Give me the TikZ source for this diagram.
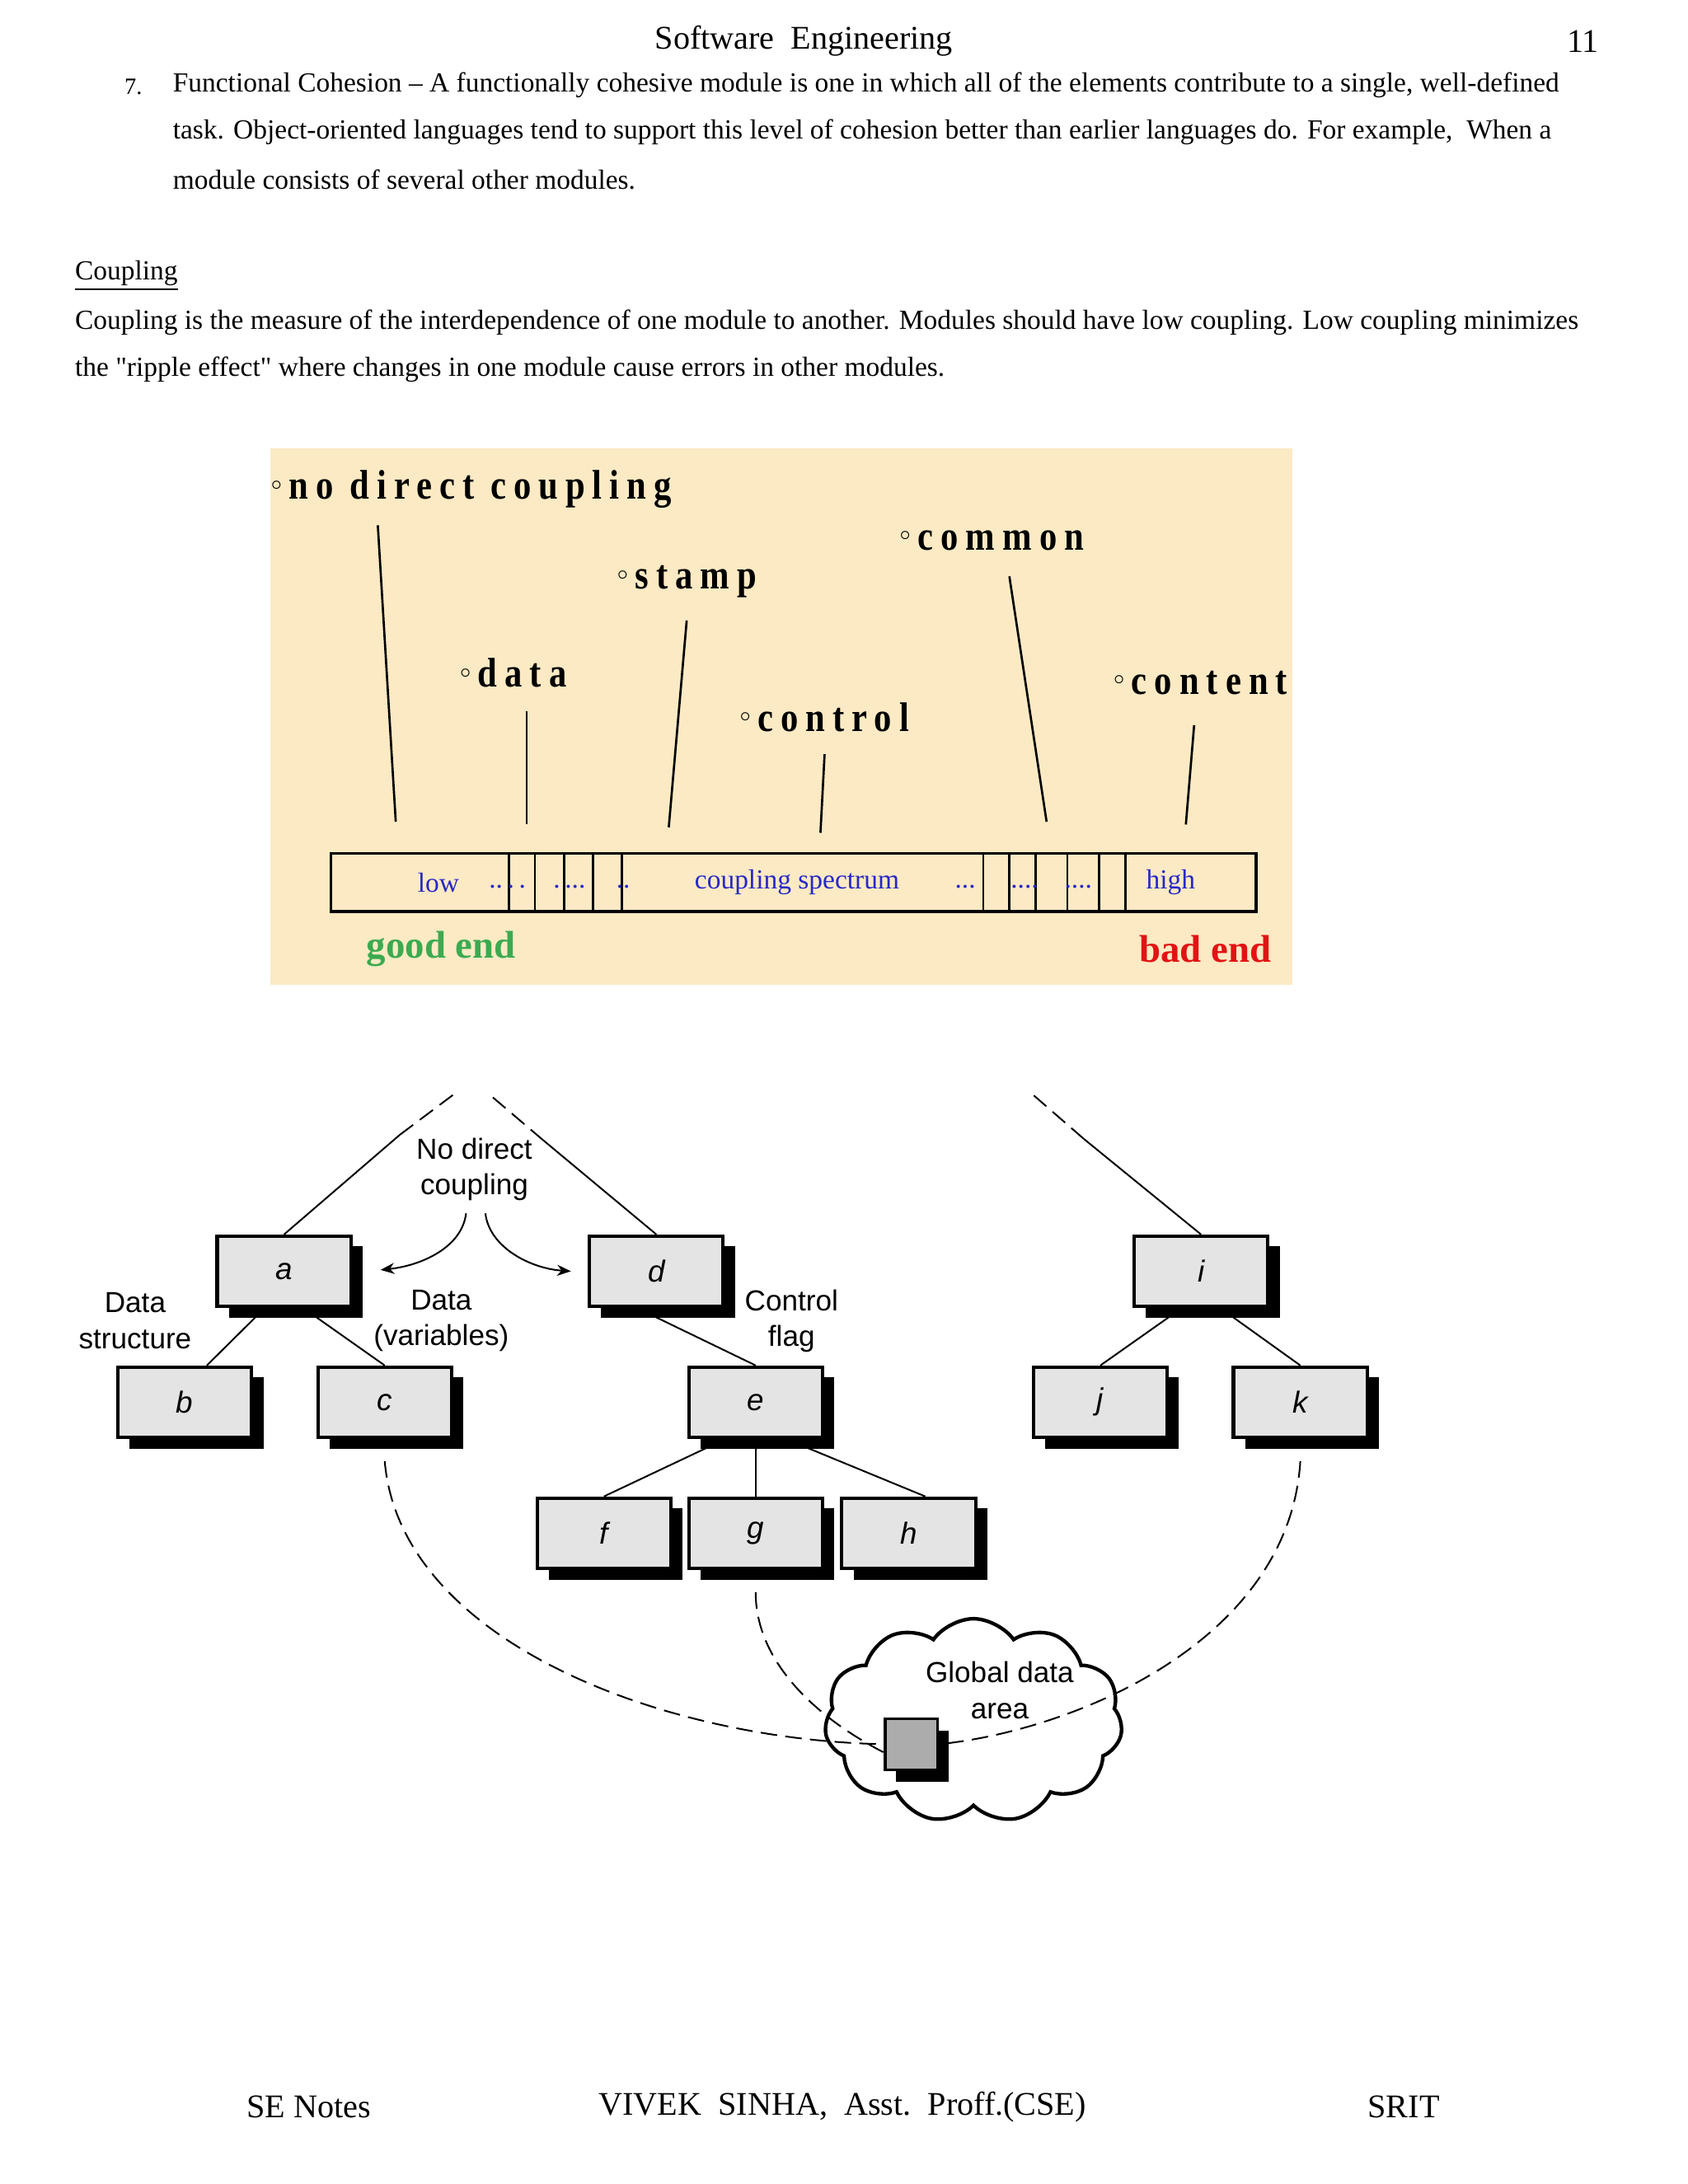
\documentclass[tikz,border=0pt]{standalone}
\usepackage{fontspec}
\setmainfont{Liberation Serif}
\newfontfamily\plainf{Liberation Serif}
\newfontfamily\sansf{Liberation Sans}
\newfontfamily\specf{Liberation Serif}[LetterSpace=18,FakeStretch=0.85]
\usetikzlibrary{shapes.symbols,arrows.meta}
\definecolor{paper}{RGB}{252,234,196}
\definecolor{boxgray}{RGB}{228,228,228}
\definecolor{specblue}{RGB}{40,40,200}
\definecolor{goodgreen}{RGB}{60,170,80}
\definecolor{badred}{RGB}{225,20,20}
\newcommand{\dg}{\raisebox{0.5ex}{\fontsize{7}{7}\selectfont$\circ$}\,}
\newcommand{\sq}{{\plainf"}}
\begin{document}
\begin{tikzpicture}[x=0.5pt,y=-0.5pt,
  body/.style={font=\fontsize{10}{12}\selectfont,anchor=west,inner sep=0},
  spec/.style={font=\fontsize{15}{16}\selectfont\specf\bfseries,anchor=west,inner sep=0},
  tick/.style={line width=0.8pt},
  sp/.style={font=\fontsize{10}{11}\selectfont,text=specblue,inner sep=0},
  mod/.style={draw,line width=1.2pt,fill=boxgray,minimum width=48.5pt,minimum height=25.5pt,inner sep=0,font=\sansf\itshape\fontsize{11}{12}\selectfont},
  shd/.style={fill=black},
  lab/.style={font=\sansf\fontsize{10.5}{13}\selectfont,align=center,inner sep=0},
  link/.style={line width=0.6pt},
  dsh/.style={line width=0.6pt,dash pattern=on 6pt off 3pt}]
\useasboundingbox (0,0) rectangle (1224,1584);
\fill[white] (0,0) rectangle (1224,1584);
% header
\node[font=\fontsize{12}{14}\selectfont] (hd) at (583,30) {Software\ \ Engineering};
\node[font=\fontsize{12}{14}\selectfont] (pg) at (1148,30) {11};
\node[body,font=\fontsize{8.5}{10}\selectfont] (n7) at (90,63) {7.};
\node[body] (l1) at (125,62) {Functional Cohesion -- A functionally cohesive module is one in which all of the elements contribute to a single, well-defined};
\node[body] (l2) at (125,96) {task. Object-oriented languages tend to support this level of cohesion better than earlier languages do. For example,\ \ When a};
\node[body] (l3) at (125,130) {module consists of several other modules.};
\node[body] (cp) at (54,200) {\underline{Coupling}};
\node[body] (p1) at (54,234) {Coupling is the measure of the interdependence of one module to another. Modules should have low coupling. Low coupling minimizes};
\node[body] (p2) at (54,268) {the \sq ripple effect\sq{} where changes in one module cause errors in other modules.};
% spectrum panel
\fill[paper] (196,325) rectangle (937,714);
\node[spec] (t1) at (196,355) {\dg no direct coupling};
\node[spec] (t2) at (652,392) {\dg common};
\node[spec] (t3) at (447,422) {\dg stamp};
\node[spec] (t4) at (333,488) {\dg data};
\node[spec] (t5) at (536,520) {\dg control};
\node[spec] (t6) at (807,495) {\dg content};
\draw[tick] (274,381) -- (287,596);
\draw[tick] (382,516) -- (382,598);
\draw[tick] (498,450) -- (485,600);
\draw[tick] (598,547) -- (595,604);
\draw[tick] (732,418) -- (759,596);
\draw[tick] (866,526) -- (860,598);
\draw[line width=1pt] (240,619) rectangle (911,661);
\foreach \x in {369,388,409,430,451,713,732,751,774,797,816} \draw[line width=0.8pt] (\x,619) -- (\x,661);
\node[sp] (lo) at (318,640) {low};
\node[sp] (d1) at (368,643) {..\,.\,.};
\node[sp] (d2) at (413,643) {.\,...};
\node[sp] (d3) at (452,643) {..};
\node[sp] (cs) at (578,640) {coupling spectrum};
\node[sp] (d4) at (700,643) {...};
\node[sp] (d5) at (743,643) {....};
\node[sp] (d6) at (782,643) {....};
\node[sp] (hi) at (849,640) {high};
\node[font=\bfseries\fontsize{14}{15}\selectfont,text=goodgreen,inner sep=0] (ge) at (320,688) {good end};
\node[font=\bfseries\fontsize{14}{15}\selectfont,text=badred,inner sep=0] (be) at (874,688) {bad end};
% module diagram
\foreach \n/\x/\y/\t in {a/206/922/a,d/476/922/d,i/871/922/i,b/134/1017/b,c/279/1017/c,e/548/1017/e,j/798/1017/j,k/943/1017/k,f/438/1112/f,g/548/1112/g,h/659/1112/h}{
  \fill[shd] (\x-40,\y-18) rectangle (\x+57,\y+34);
  \node[mod] (\n) at (\x,\y) {\t};
}
\coordinate (ta) at (330,793);
\coordinate (ma) at (290,823);
\coordinate (td) at (354,793);
\coordinate (md) at (394,827);
\coordinate (ti) at (748,793);
\coordinate (mi) at (786,826);
\draw[link] (a.north) -- (ma);
\draw[dsh] (ma) -- (ta);
\draw[link] (d.north) -- (md);
\draw[dsh] (md) -- (td);
\draw[link] (i.north) -- (mi);
\draw[dsh] (mi) -- (ti);
\draw[link] ([xshift=-7pt]a.south) -- ([xshift=8pt]b.north);
\draw[link] ([xshift=7pt]a.south) -- (c.north);
\draw[link] ([xshift=-7pt]d.south) -- (e.north);
\draw[link] ([xshift=-11pt]e.south) -- (f.north);
\draw[link] (e.south) -- (g.north);
\draw[link] ([xshift=11pt]e.south) -- ([xshift=6pt]h.north);
\draw[link] ([xshift=-7pt]i.south) -- (j.north);
\draw[link] ([xshift=7pt]i.south) -- (k.north);
\node[lab] (nd) at (344,848) {No direct\\coupling};
\node[lab] (ds) at (98,958) {Data\\structure};
\node[lab] (dv) at (320,958) {Data\\(variables)};
\node[lab] (cf) at (574,958) {Control\\flag};
\coordinate (ndl) at (338,880);
\coordinate (ndr) at (352,880);
\coordinate (al) at (276,921);
\coordinate (ar) at (414,922);
\draw[link,-{Stealth[length=5pt,width=4pt]}] (ndl) .. controls (335,905) and (305,918) .. (al);
\draw[link,-{Stealth[length=5pt,width=4pt]}] (ndr) .. controls (355,905) and (385,920) .. (ar);
\node[cloud,draw,line width=1.3pt,fill=white,cloud puffs=11,cloud puff arc=110,aspect=1.5,minimum width=108pt,minimum height=74pt] (cl) at (706,1248) {};
\node[lab] (gd) at (725,1226) {Global data\\area};
\fill[shd] (650,1255) rectangle (688,1292);
\node[draw,line width=1pt,fill=gray!65,minimum width=19pt,minimum height=18.5pt,inner sep=0] (gsq) at (661,1265) {};
\draw[dsh] ([yshift=-8pt]c.south) .. controls (290,1190) and (480,1262) .. (gsq.west);
\draw[dsh] ([yshift=-8pt]g.south) .. controls (548,1210) and (600,1250) .. ([yshift=-3pt]gsq.west);
\draw[dsh] ([yshift=-8pt]k.south) .. controls (935,1190) and (780,1255) .. (gsq.east);
% footer
\node[font=\fontsize{12}{14}\selectfont] (f1) at (224,1528) {SE Notes};
\node[font=\fontsize{12}{14}\selectfont] (f2) at (611,1528) {VIVEK\ \ SINHA,\ \ Asst.\ \ Proff.(CSE)};
\node[font=\fontsize{12}{14}\selectfont] (f3) at (1018,1528) {SRIT};
\end{tikzpicture}
\end{document}
